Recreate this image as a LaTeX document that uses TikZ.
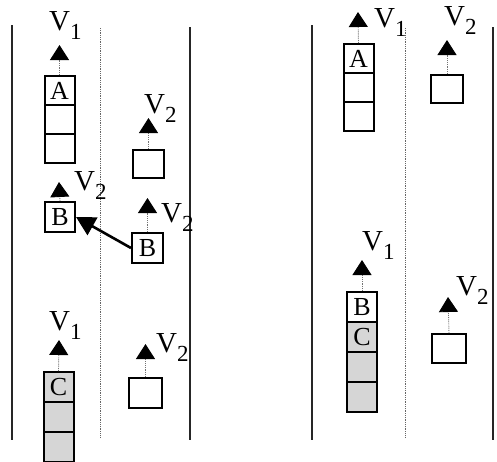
\documentclass[tikz,border=0pt]{standalone}
\usepackage{fontspec}
\setmainfont{Liberation Serif}
\usetikzlibrary{arrows.meta}
\tikzset{
  car/.style={draw, line width=2pt, minimum width=30pt, minimum height=29pt, inner sep=0pt, font=\fontsize{26}{26}\selectfont},
  shaded/.style={car, fill=black!16},
  wall/.style={line width=2.4pt, black!85},
  lane/.style={densely dotted, line width=0.8pt, black!60},
  vel/.style={densely dotted, black!55, line width=0.9pt, -{Triangle[length=15pt,width=19pt,color=black]}},
  lab/.style={anchor=base west, inner sep=0pt, font=\fontsize{29}{29}\selectfont},
  push/.style={line width=2.6pt, -{Triangle[length=19pt,width=20pt]}}
}
\newcommand{\vlab}[1]{V\raisebox{-9pt}{\fontsize{23}{23}\selectfont #1}}
\begin{document}
\begin{tikzpicture}[x=1pt,y=-1pt]
\useasboundingbox (0,0) rectangle (497,461);
\clip (0,0) rectangle (497,461);
% roads
\draw[wall] (12,25) -- (12,440);
\draw[lane] (100,28) -- (100,437);
\draw[wall] (190,27) -- (190,440);
\draw[wall] (312,25) -- (312,440);
\draw[lane] (405,28) -- (405,438);
\draw[wall] (493,27) -- (493,440);

% ---- left scene ----
\node[car] (A1) at (59.5,90.5) {A};
\node[car] (A2) at (59.5,119.5) {};
\node[car] (A3) at (59.5,148.5) {};
\coordinate (tA) at (59.5,45);
\draw[vel] (A1.north) -- (tA);
\node[lab] (lA) at (49,30) {\vlab{1}};

\node[car, minimum width=31pt, minimum height=28pt] (T1) at (148.5,164) {};
\coordinate (tT1) at (148.5,118);
\draw[vel] (T1.north) -- (tT1);
\node[lab] (lT1) at (144,113) {\vlab{2}};

\node[car, minimum height=30pt] (Bl) at (60,217) {B};
\coordinate (tBl) at (59,182);
\draw[vel] (Bl.north) -- (tBl);
\node[lab] (lBl) at (74,190) {\vlab{2}};

\node[car, minimum width=31pt, minimum height=30pt] (Br) at (147.5,248) {B};
\coordinate (tBr) at (147.5,198);
\draw[vel] (Br.north) -- (tBr);
\node[lab] (lBr) at (161,222) {\vlab{2}};
\draw[push] (Br.west) -- (Bl.east);

\node[shaded, minimum height=30pt] (C1) at (58.5,387) {C};
\node[shaded, minimum height=30pt] (C2) at (58.5,417) {};
\node[shaded, minimum height=30pt] (C3) at (58.5,447) {};
\coordinate (tC) at (59,340);
\draw[vel] (C1.north) -- (tC);
\node[lab] (lC) at (49,330) {\vlab{1}};

\node[car, minimum width=33pt, minimum height=30pt] (T2) at (145.5,393) {};
\coordinate (tT2) at (145.5,344);
\draw[vel] (T2.north) -- (tT2);
\node[lab] (lT2) at (156,352) {\vlab{2}};

% ---- right scene ----
\node[car] (RA1) at (358.5,58.5) {A};
\node[car] (RA2) at (358.5,87.5) {};
\node[car] (RA3) at (358.5,116.5) {};
\coordinate (tRA) at (358,12);
\draw[vel] (RA1.north) -- (tRA);
\node[lab] (lRA) at (374,27) {\vlab{1}};

\node[car, minimum width=32pt, minimum height=28pt] (RT1) at (447,89) {};
\coordinate (tRT1) at (447,40);
\draw[vel] (RT1.north) -- (tRT1);
\node[lab] (lRT1) at (444,25) {\vlab{2}};

\node[car, minimum height=30pt] (RB) at (362,307) {B};
\node[shaded, minimum height=30pt] (RC) at (362,337) {C};
\node[shaded, minimum height=30pt] (RD) at (362,367) {};
\node[shaded, minimum height=30pt] (RE) at (362,397) {};
\coordinate (tRB) at (362,260);
\draw[vel] (RB.north) -- (tRB);
\node[lab] (lRB) at (362,250) {\vlab{1}};

\node[car, minimum width=34pt, minimum height=29pt] (RT2) at (449,348.5) {};
\coordinate (tRT2) at (448,297);
\draw[vel] (RT2.north) -- (tRT2);
\node[lab] (lRT2) at (456,295) {\vlab{2}};
\end{tikzpicture}
\end{document}
